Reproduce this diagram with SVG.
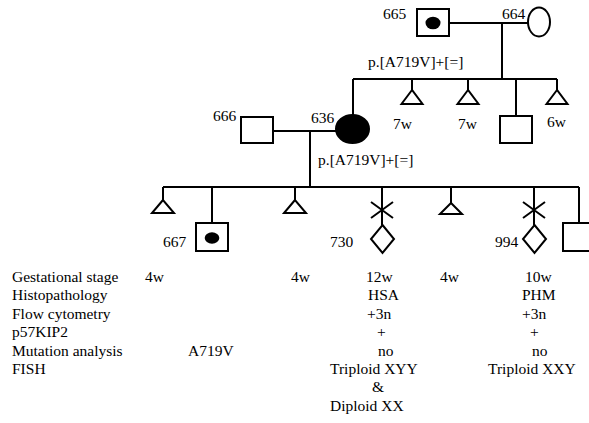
<svg xmlns="http://www.w3.org/2000/svg" width="589" height="423" viewBox="0 0 589 423">
<style>
.s{fill:#fff;stroke:#000;stroke-width:2}
.f{fill:#000;stroke:#000;stroke-width:2}
.d{fill:#000}
.c{fill:none;stroke:#000;stroke-width:2}
text{font-family:"Liberation Serif","Times New Roman",serif;font-size:15.5px;fill:#000}
</style>
<rect width="589" height="423" fill="#fff"/>
<g id="connectors" class="c">
<path d="M449,23H528 M502,23V79 M353,79H557 M353,79V115 M412,79V90 M468,79V90 M516,79V116 M557,79V90"/>
<path d="M273,131H336 M310,131V187 M163,187H579 M163,187V200 M212,187V223 M295,187V200 M382,187V225 M451,187V203 M534,187V225 M579,187V223"/>
<path d="M371,202L393,218 M371,218L393,202 M523,202L545,218 M523,218L545,202"/>
</g>
<g id="n665"><rect class="s" x="417" y="9" width="32" height="27"/><ellipse class="d" cx="433" cy="23" rx="7.5" ry="6.3"/><text x="383" y="19">665</text></g>
<g id="n664"><ellipse class="s" cx="539" cy="22" rx="11" ry="14.5"/><text x="502" y="19">664</text></g>
<text x="368" y="67">p.[A719V]+[=]</text>
<g id="n636"><ellipse class="f" cx="352.5" cy="129" rx="16.5" ry="14"/><text x="311" y="123">636</text></g>
<g id="t1"><polygon class="s" points="412,90 401.5,104 422.5,104"/><text x="393" y="129">7w</text></g>
<g id="t2"><polygon class="s" points="468,90 457.5,104 478.5,104"/><text x="458" y="129">7w</text></g>
<g id="sq516"><rect class="s" x="500" y="116" width="32" height="27"/></g>
<g id="t4"><polygon class="s" points="557,90 546.5,104 567.5,104"/><text x="547" y="127">6w</text></g>
<g id="n666"><rect class="s" x="241" y="117" width="32" height="26"/><text x="213" y="121">666</text></g>
<text x="318" y="165">p.[A719V]+[=]</text>
<g id="c1"><polygon class="s" points="163,200 152,213 174,213"/></g>
<g id="n667"><rect class="s" x="196" y="223" width="32" height="28"/><ellipse class="d" cx="212" cy="238" rx="7.3" ry="5.7"/><text x="163" y="247">667</text></g>
<g id="c3"><polygon class="s" points="295,200 284,213 306,213"/></g>
<g id="n730"><polygon class="s" points="382.5,225 394,239 382.5,253 371,239"/><text x="330" y="247">730</text></g>
<g id="c5"><polygon class="s" points="451,203 440,214 462,214"/></g>
<g id="n994"><polygon class="s" points="534.5,225 546,239 534.5,253 523,239"/><text x="495" y="247">994</text></g>
<g id="c7"><rect class="s" x="563" y="223" width="32" height="28"/></g>
<g id="table">
<text x="12" y="282">Gestational stage</text>
<text x="12" y="300.4">Histopathology</text>
<text x="12" y="318.8">Flow cytometry</text>
<text x="12" y="337.2">p57KIP2</text>
<text x="12" y="355.6">Mutation analysis</text>
<text x="12" y="374">FISH</text>
<text x="145" y="282">4w</text>
<text x="291" y="282">4w</text>
<text x="440" y="282">4w</text>
<text x="188" y="355.6">A719V</text>
<text x="366" y="282">12w</text>
<text x="368" y="300.4">HSA</text>
<text x="367" y="318.8">+3n</text>
<text x="377" y="337.2">+</text>
<text x="378" y="355.6">no</text>
<text x="330" y="374">Triploid XYY</text>
<text x="372" y="392.4">&amp;</text>
<text x="330" y="410.8">Diploid XX</text>
<text x="525" y="282">10w</text>
<text x="522" y="300.4">PHM</text>
<text x="522" y="318.8">+3n</text>
<text x="530" y="337.2">+</text>
<text x="532" y="355.6">no</text>
<text x="488" y="374">Triploid XXY</text>
</g>
</svg>
